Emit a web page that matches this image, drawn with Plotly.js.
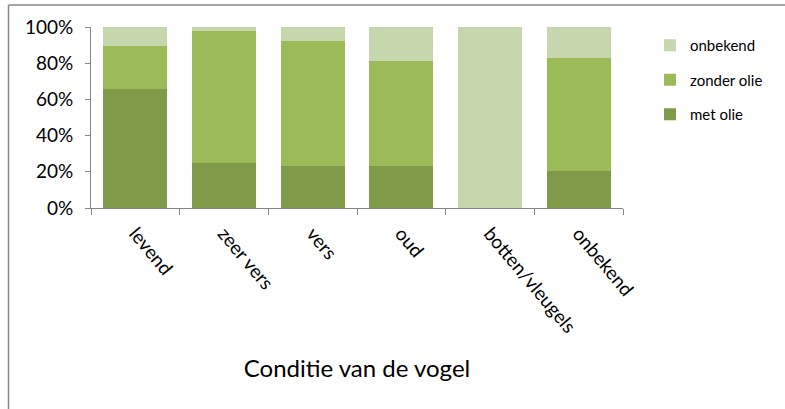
<!DOCTYPE html>
<html>
<head>
<meta charset="utf-8">
<script src="https://cdn.plot.ly/plotly-3.0.1.min.js"></script>
<style>html,body{margin:0;padding:0;background:#fff;}#chart{width:785px;height:409px;}</style>
</head>
<body>
<div id="chart"></div>
<script>
const categories = ["levend", "zeer vers", "vers", "oud", "botten/vleugels", "onbekend"];
const metOlie = [66, 25, 23.4, 23.2, 0, 20.6];
const zonderOlie = [23.7, 73, 69, 58, 0, 62.4];
const onbekend = [10.3, 2, 7.6, 18.8, 100, 17];
const seriesNames = ["met olie", "zonder olie", "onbekend"];
const yTickVals = [0, 20, 40, 60, 80, 100];
const yTickText = ["0%", "20%", "40%", "60%", "80%", "100%"];

const colors = ["#7F9A48", "#9BBB59", "#C6D6AD"];
const font = "Lato, 'Open Sans', sans-serif";
const seriesValues = [metOlie, zonderOlie, onbekend];

const traces = seriesValues.map((vals, i) => ({
  type: "bar",
  name: seriesNames[i],
  x: categories,
  y: vals,
  marker: {color: colors[i], line: {width: 0}},
  legendgroup: "g" + i,
  legendrank: 3 - i,
  hoverinfo: "x+y+name"
}));

const L = 91, R = 623, T = 27, B = 208;
const pw = R - L, ph = B - T;
const px = v => (v - L) / pw;
const py = v => (B - v) / ph;

const layout = {
  width: 785, height: 409,
  margin: {l: L, r: 785 - R, t: T, b: 409 - B, pad: 0, autoexpand: false},
  paper_bgcolor: "#fff", plot_bgcolor: "#fff",
  barmode: "stack",
  bargap: 0.28,
  font: {family: font, color: "#000"},
  showlegend: true,
  legend: {
    x: px(650), xanchor: "left", y: py(29), yanchor: "top",
    traceorder: "grouped", tracegroupgap: 12,
    font: {size: 15, family: font, color: "#000"},
    itemwidth: 30, bgcolor: "rgba(0,0,0,0)"
  },
  xaxis: {
    type: "category",
    tickangle: 50,
    tickfont: {size: 19, family: font, color: "#000"},
    showline: true, linecolor: "#868686", linewidth: 1,
    ticks: "outside", ticklen: 6, tickcolor: "#868686", tickson: "boundaries",
    ticklabelstandoff: 6,
    showgrid: false, zeroline: false,
    title: {text: "Conditie van de vogel", font: {size: 24, family: font, color: "#000"}, standoff: 24},
    fixedrange: true
  },
  yaxis: {
    range: [0, 100],
    tickvals: yTickVals, ticktext: yTickText,
    tickfont: {size: 19, family: font, color: "#000"},
    showline: true, linecolor: "#868686", linewidth: 1,
    ticks: "outside", ticklen: 5, tickcolor: "#868686",
    ticklabelstandoff: 8,
    showgrid: false, zeroline: false,
    fixedrange: true
  },
  shapes: [
    {type: "line", xref: "paper", yref: "paper", x0: px(8.5), x1: px(8.5), y0: py(5), y1: py(420), line: {color: "#868686", width: 1.5}},
    {type: "line", xref: "paper", yref: "paper", x0: px(8.5), x1: px(800), y0: py(5), y1: py(5), line: {color: "#868686", width: 1.5}}
  ]
};

Plotly.newPlot("chart", traces, layout, {displayModeBar: false, staticPlot: true});
</script>
</body>
</html>
